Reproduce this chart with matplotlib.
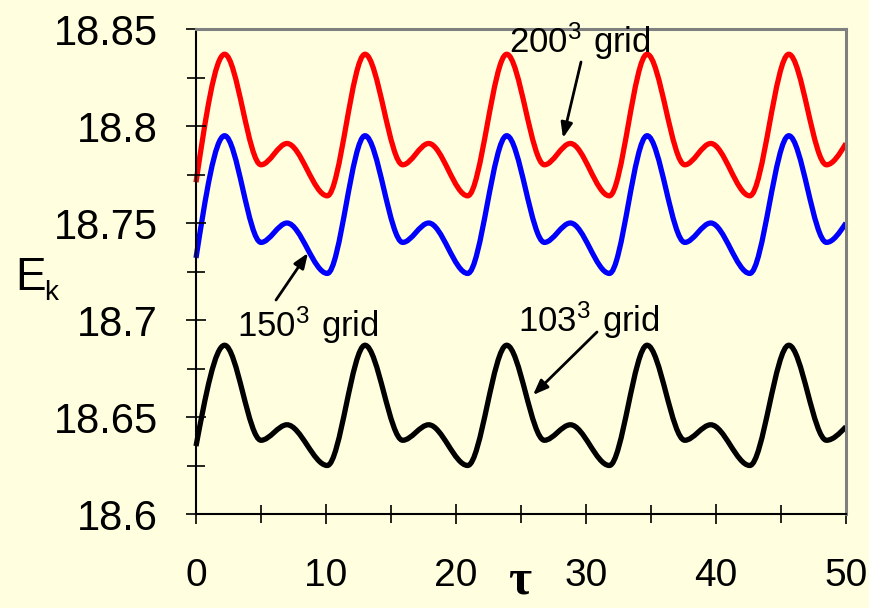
import numpy as np
import matplotlib
matplotlib.use('Agg')
import matplotlib.pyplot as plt
from matplotlib.path import Path
from matplotlib.patches import PathPatch
from matplotlib.ticker import MultipleLocator

plt.rcParams['font.family'] = ['Liberation Sans', 'DejaVu Sans']
plt.rcParams['mathtext.fontset'] = 'custom'
plt.rcParams['mathtext.rm'] = 'Liberation Sans'

# values (ends + turning points)
tau = [0, 2.2, 5.0, 7.0, 10.1, 13.0, 15.9, 17.9, 20.9, 23.9, 26.8, 28.8, 31.8,
       34.7, 37.6, 39.6, 42.6, 45.6, 48.5, 50.0]
ek_200 = [18.771, 18.837, 18.780, 18.791, 18.764, 18.837, 18.780, 18.791, 18.764,
          18.837, 18.780, 18.791, 18.764, 18.837, 18.780, 18.791, 18.764, 18.837,
          18.780, 18.791]
ek_150 = [18.732, 18.795, 18.740, 18.750, 18.724, 18.795, 18.740, 18.750, 18.724,
          18.795, 18.740, 18.750, 18.724, 18.795, 18.740, 18.750, 18.724, 18.795,
          18.740, 18.750]
ek_103 = [18.635, 18.687, 18.638, 18.646, 18.625, 18.687, 18.638, 18.646, 18.625,
          18.687, 18.638, 18.646, 18.625, 18.687, 18.638, 18.646, 18.625, 18.687,
          18.638, 18.645]


def smooth_line(ax, x, y, color):
    # smoothed line: bezier segments through the data points, flat at turning points
    x = np.asarray(x, float)
    y = np.asarray(y, float)
    s = np.diff(y) / np.diff(x)
    m = np.zeros_like(y)
    for i in range(1, len(x) - 1):
        if s[i - 1] * s[i] > 0:
            m[i] = 2 / (1 / s[i - 1] + 1 / s[i])
    m[0] = 1.5 * s[0]
    m[-1] = 1.5 * s[-1]
    verts = [(x[0], y[0])]
    codes = [Path.MOVETO]
    for i in range(len(x) - 1):
        d = (x[i + 1] - x[i]) / 3
        verts += [(x[i] + d, y[i] + m[i] * d),
                  (x[i + 1] - d, y[i + 1] - m[i + 1] * d),
                  (x[i + 1], y[i + 1])]
        codes += [Path.CURVE4] * 3
    ax.add_patch(PathPatch(Path(verts, codes), fill=False, ec=color, lw=3.8,
                           capstyle='butt', joinstyle='round', clip_on=False))


bg = '#FFFFE0'
fig = plt.figure(figsize=(8.7, 6.08), dpi=100, facecolor=bg)
ax = fig.add_axes([0.2253, 0.1546, 0.7471, 0.7977], facecolor=bg)

smooth_line(ax, tau, ek_200, 'red')
smooth_line(ax, tau, ek_150, 'blue')
smooth_line(ax, tau, ek_103, 'black')

ax.set_xlim(0, 50)
ax.set_ylim(18.6, 18.85)
ax.xaxis.set_major_locator(MultipleLocator(10))
ax.xaxis.set_minor_locator(MultipleLocator(5))
ax.yaxis.set_minor_locator(MultipleLocator(0.025))
ax.set_yticks([18.6, 18.65, 18.7, 18.75, 18.8, 18.85])
ax.set_yticklabels(['18.6', '18.65', '18.7', '18.75', '18.8', '18.85'])

ax.tick_params(axis='both', which='major', direction='inout', length=15, width=1.2, color='black')
ax.tick_params(axis='both', which='minor', direction='inout', length=13, width=1.2, color='black')
ax.tick_params(axis='y', which='major', labelsize=30, pad=20)
ax.tick_params(axis='x', which='major', labelsize=28, pad=24)

for s in ['left', 'bottom']:
    ax.spines[s].set_color('black')
    ax.spines[s].set_linewidth(1.5)
for s in ['top', 'right']:
    ax.spines[s].set_color('#808080')
    ax.spines[s].set_linewidth(2.2)

# axis labels
fig.text(15 / 870, 1 - 290 / 608, 'E', fontsize=33, ha='left', va='baseline')
fig.text(44 / 870, 1 - 300 / 608, 'k', fontsize=20, ha='left', va='baseline')
fig.text(520 / 870, 1 - 594 / 608, 'τ', fontsize=36, fontweight='bold',
         family=['Liberation Serif', 'DejaVu Serif'], ha='center', va='baseline')

# annotations
fig.text(509 / 870, 1 - 53 / 608, r'$\mathregular{200^3\ grid}$', fontsize=25)
fig.text(237 / 870, 1 - 337 / 608, r'$\mathregular{150^3\ grid}$', fontsize=25)
fig.text(518 / 870, 1 - 332 / 608, r'$\mathregular{103^3\ grid}$', fontsize=25)

arr = dict(arrowstyle='-|>,head_length=0.9,head_width=0.35', color='black', lw=2,
           shrinkA=0, shrinkB=0)
for tail, head in [((581, 62), (563, 138)), ((276, 300), (308, 253)), ((597, 332), (533, 395))]:
    ax.annotate('', xy=(head[0] / 870, 1 - head[1] / 608), xycoords='figure fraction',
                xytext=(tail[0] / 870, 1 - tail[1] / 608), textcoords='figure fraction',
                arrowprops=arr)

fig.savefig('out.png', dpi=100, facecolor=bg)
